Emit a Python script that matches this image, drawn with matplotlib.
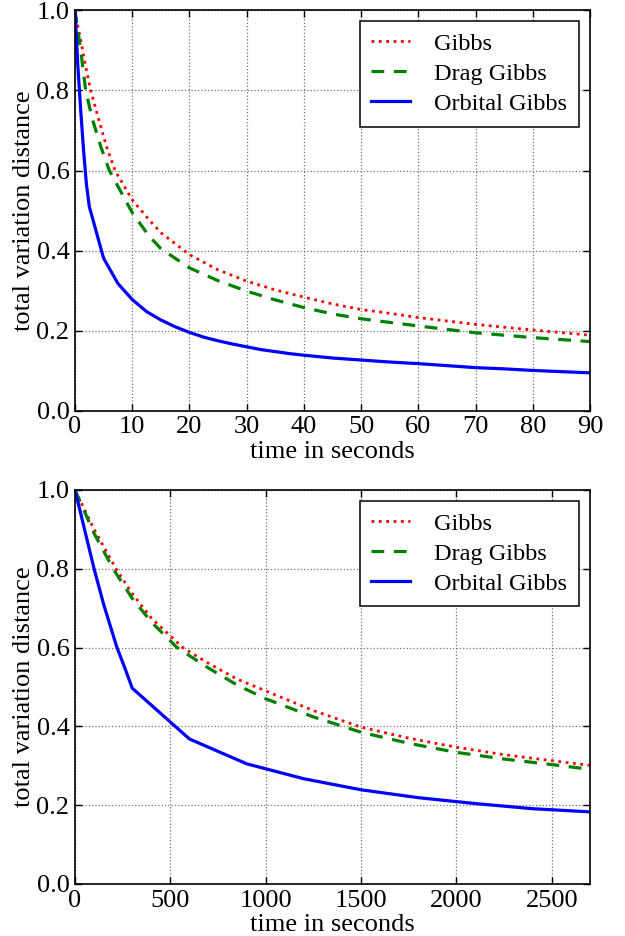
import matplotlib
matplotlib.use("Agg")
import matplotlib.pyplot as plt

plt.rcParams['font.family'] = ['Liberation Serif', 'DejaVu Serif']
plt.rcParams['mathtext.fontset'] = 'stix'

# ---- top panel (short run, seconds) ----
t1_gibbs = [0, 0.5, 1, 2, 2.74, 4, 5.5, 7, 10, 13, 15, 20, 25, 30, 35, 40, 45, 50, 53.3, 60, 70, 80, 90]
v1_gibbs = [1.0, 0.96, 0.925, 0.85, 0.8, 0.735, 0.66, 0.6, 0.527, 0.476, 0.445, 0.39, 0.352, 0.324,
            0.302, 0.284, 0.267, 0.253, 0.247, 0.233, 0.216, 0.202, 0.189]
t1_drag = [0, 0.5, 1, 1.87, 3, 4.5, 6, 10, 12.8, 15, 20, 25, 30, 35, 40, 45, 50, 53.3, 60, 70, 80, 90]
v1_drag = [1.0, 0.95, 0.9, 0.8, 0.73, 0.66, 0.6, 0.495, 0.439, 0.405, 0.357, 0.325, 0.299, 0.277,
           0.258, 0.242, 0.23, 0.224, 0.212, 0.195, 0.183, 0.173]
t1_orb = [0, 0.5, 1, 1.5, 2, 2.5, 5, 7.5, 10, 12.5, 15, 17.5, 20, 22.5, 25, 27.5, 30, 32.5, 35, 37.5,
          40, 45, 50, 55, 60, 65, 70, 75, 80, 85, 90]
v1_orb = [1.0, 0.86, 0.75, 0.65, 0.565, 0.51, 0.381, 0.318, 0.278, 0.248, 0.227, 0.21, 0.196, 0.184,
          0.175, 0.167, 0.16, 0.153, 0.148, 0.143, 0.139, 0.132, 0.127, 0.122, 0.118, 0.113, 0.108,
          0.105, 0.101, 0.098, 0.095]

# ---- bottom panel (long run, seconds) ----
t2_gibbs = [0, 100, 215, 300, 400, 565, 700, 850, 1000, 1250, 1500, 1750, 2000, 2250, 2500, 2700]
v2_gibbs = [1.0, 0.9, 0.8, 0.737, 0.675, 0.6, 0.56, 0.52, 0.49, 0.44, 0.398, 0.37, 0.347, 0.328, 0.313, 0.301]
t2_drag = [0, 100, 200, 300, 400, 535, 700, 850, 1000, 1250, 1500, 1750, 2000, 2250, 2500, 2700]
v2_drag = [1.0, 0.89, 0.8, 0.725, 0.665, 0.6, 0.548, 0.505, 0.47, 0.424, 0.385, 0.357, 0.334, 0.317, 0.303, 0.291]
t2_orb = [0, 50, 100, 150, 220, 260, 300, 600, 900, 1200, 1500, 1800, 2100, 2400, 2700]
v2_orb = [1.0, 0.9, 0.8, 0.71, 0.6, 0.55, 0.497, 0.368, 0.305, 0.267, 0.239, 0.219, 0.204, 0.191, 0.183]

labels = ["Gibbs", "Drag Gibbs", "Orbital Gibbs"]
xlabel = "time in seconds"
ylabel = "total variation distance"
yticks = [0.0, 0.2, 0.4, 0.6, 0.8, 1.0]

fig = plt.figure(figsize=(6.25, 9.36), dpi=100, facecolor='white')
ax1 = fig.add_axes([0.12, 0.561, 0.824, 0.428])
ax2 = fig.add_axes([0.12, 0.0556, 0.824, 0.4209])

FS = 19
LFS = 17.5

def style(ax, xlim, xticks):
    ax.set_xlim(*xlim)
    ax.set_ylim(0, 1)
    ax.set_xticks(xticks)
    ax.set_yticks(yticks)
    ax.set_yticklabels([f"{v:.1f}" for v in yticks])
    ax.grid(True, color='0.45', linestyle=':', linewidth=0.9)
    ax.tick_params(direction='in', top=True, right=True, length=5, width=1, labelsize=FS, pad=4)
    for s in ax.spines.values():
        s.set_linewidth(1.2)
    ax.set_xlabel(xlabel, fontsize=FS, labelpad=1.5)
    ax.set_ylabel(ylabel, fontsize=FS, labelpad=1)
    leg = ax.legend(loc='upper right', fontsize=LFS, fancybox=False, framealpha=1,
                    edgecolor='black', handlelength=1.6, handletextpad=1.0, labelspacing=0.33,
                    borderpad=0.48, borderaxespad=0.45)
    leg.get_frame().set_linewidth(1.1)

for ax, (tg, vg, td, vd, to, vo) in [
        (ax1, (t1_gibbs, v1_gibbs, t1_drag, v1_drag, t1_orb, v1_orb)),
        (ax2, (t2_gibbs, v2_gibbs, t2_drag, v2_drag, t2_orb, v2_orb))]:
    ax.plot(tg, vg, color='#ff0000', linestyle=':', linewidth=2.0, label=labels[0])
    ax.plot(td, vd, color='#008000', linestyle='--', linewidth=2.3, dashes=(4, 3), label=labels[1])
    ax.plot(to, vo, color='#0000ff', linestyle='-', linewidth=2.3, label=labels[2])

style(ax1, (0, 90), list(range(0, 91, 10)))
style(ax2, (0, 2700), [0, 500, 1000, 1500, 2000, 2500])

fig.savefig("out.png", dpi=100, facecolor='white')
